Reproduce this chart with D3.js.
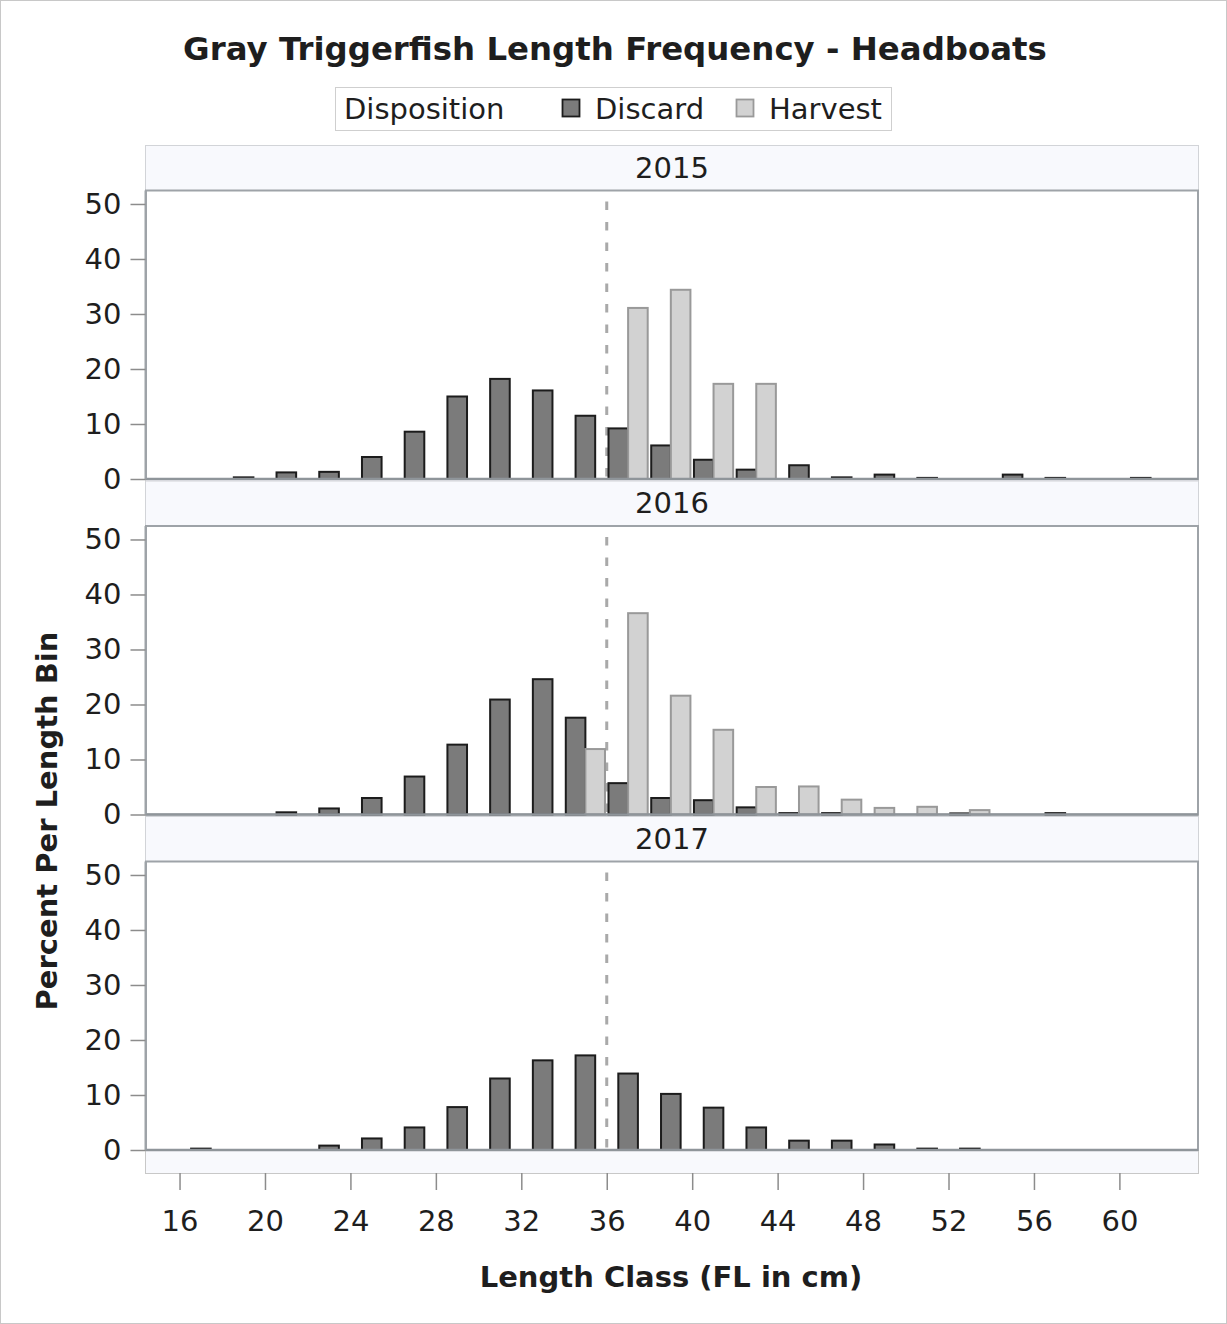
<!DOCTYPE html>
<meta charset="utf-8">

<!-- Load d3.js -->
<script src="https://d3js.org/d3.v7.min.js"></script>

<style>
    html, body {
        margin: 0;
        padding: 0;
        background-color: white;
    }
    svg text {
        font-family: "DejaVu Sans", Verdana, sans-serif;
        fill: #1e1e1e;
    }
</style>

<body></body>

<script>

    // DATA (percent per 2 cm length bin, null = no bar in that bin)
    const years = ["2015", "2016", "2017"];
    const lengthBins = [17, 19, 21, 23, 25, 27, 29, 31, 33, 35, 37, 39, 41, 43, 45, 47, 49, 51, 53, 55, 57, 59, 61];

    const discard2015 = [null, 0.3, 1.2, 1.3, 4.0, 8.6, 15.0, 18.2, 16.1, 11.5, 9.2, 6.1, 3.5, 1.7, 2.5, 0.3, 0.8, 0.2, null, 0.8, 0.2, null, 0.2];
    const harvest2015 = [null, null, null, null, null, null, null, null, null, null, 31.1, 34.4, 17.3, 17.3, null, null, null, null, null, null, null, null, null];

    const discard2016 = [null, null, 0.4, 1.1, 3.0, 6.9, 12.7, 20.9, 24.6, 17.6, 5.7, 3.0, 2.6, 1.3, 0.25, 0.25, null, null, 0.2, null, 0.25, null, null];
    const harvest2016 = [null, null, null, null, null, null, null, null, null, 11.9, 36.6, 21.6, 15.4, 5.0, 5.1, 2.7, 1.2, 1.4, 0.8, null, null, null, null];

    const discard2017 = [0.25, null, null, 0.8, 2.1, 4.1, 7.8, 13.0, 16.3, 17.2, 13.9, 10.2, 7.7, 4.1, 1.7, 1.7, 1.0, 0.25, 0.25, null, null, null, null];
    const harvest2017 = [null, null, null, null, null, null, null, null, null, null, null, null, null, null, null, null, null, null, null, null, null, null, null];

    const yTicks = [0, 10, 20, 30, 40, 50];
    const xTicks = [16, 20, 24, 28, 32, 36, 40, 44, 48, 52, 56, 60];
    const sizeLimit = 36;   // legal size reference line
    const groups = ["Discard", "Harvest"];

    // DESIGN CONSTANTS
    const width  = 1227;
    const height = 1324;

    const LEFT = 146, RIGHT = 1198;
    const PANEL_TOP = 145;
    const PANEL_PITCH = 335.5;
    const HEADER_H = 45.5;
    const PLOT_H = 288.5;
    const AXIS_Y = 1173;
    const BAR_W = 19.6;

    const discardFill = "#7b7b7b", discardLine = "#1c1c1c";
    const harvestFill = "#d2d2d2", harvestLine = "#999999";
    const stripFill = "#f8f9fd";
    const frameColor = "#9ea3a8";
    const tickColor = "#8c8c8c";

    const panels = [
        { year: years[0], discard: discard2015, harvest: harvest2015 },
        { year: years[1], discard: discard2016, harvest: harvest2016 },
        { year: years[2], discard: discard2017, harvest: harvest2017 }
    ];

    const svg = d3.select("body").append("svg")
        .attr("width", width)
        .attr("height", height);

    // light frame round the picture
    svg.append("rect")
        .attr("x", 0.5).attr("y", 0.5)
        .attr("width", width - 1).attr("height", height - 1)
        .attr("fill", "white")
        .attr("stroke", "#c8c8c8");

    // shared x scale
    const x = d3.scaleLinear().domain([14.43, 63.68]).range([LEFT, RIGHT]);

    // Title
    svg.append("text")
        .attr("x", 615).attr("y", 60)
        .attr("text-anchor", "middle")
        .attr("font-weight", "bold")
        .attr("font-size", 32.4)
        .text("Gray Triggerfish Length Frequency - Headboats");

    // Legend
    const legend = svg.append("g");
    legend.append("rect")
        .attr("x", 335.5).attr("y", 87.5)
        .attr("width", 556).attr("height", 43)
        .attr("fill", "white")
        .attr("stroke", "#cfcfcf");
    legend.append("text")
        .attr("x", 344).attr("y", 118.5)
        .attr("font-size", 29)
        .text("Disposition");
    const legendX = [562, 736];
    groups.forEach(function(g, i) {
        legend.append("rect")
            .attr("x", legendX[i] + 0.5).attr("y", 99.5)
            .attr("width", 17).attr("height", 17)
            .attr("fill", i === 0 ? discardFill : harvestFill)
            .attr("stroke", i === 0 ? discardLine : harvestLine)
            .attr("stroke-width", 1.8);
        legend.append("text")
            .attr("x", legendX[i] + 33).attr("y", 118.5)
            .attr("font-size", 29)
            .text(g);
    });

    // Outer panel box + bottom strip
    svg.append("rect")
        .attr("x", 145.5).attr("y", PANEL_TOP + 0.5)
        .attr("width", RIGHT - 145).attr("height", AXIS_Y - PANEL_TOP)
        .attr("fill", stripFill)
        .attr("stroke", "#c8c8c8");

    // Draws one year cell
    function drawPanel(p, i) {
        const top = PANEL_TOP + i * PANEL_PITCH;
        const plotTop = top + HEADER_H;
        const plotBottom = plotTop + PLOT_H;

        const y = d3.scaleLinear().domain([0, 52.45]).range([plotBottom, plotTop]);

        const g = svg.append("g");

        // header strip
        g.append("rect")
            .attr("x", 145.5).attr("y", top + 0.5)
            .attr("width", RIGHT - 145).attr("height", HEADER_H)
            .attr("fill", stripFill)
            .attr("stroke", "#d2d4d8");
        g.append("text")
            .attr("x", (LEFT + RIGHT) / 2).attr("y", top + 32.5)
            .attr("text-anchor", "middle")
            .attr("font-size", 29)
            .text(p.year);

        // plot area
        g.append("rect")
            .attr("x", LEFT).attr("y", plotTop)
            .attr("width", RIGHT - LEFT).attr("height", PLOT_H)
            .attr("fill", "white")
            .attr("stroke", frameColor)
            .attr("stroke-width", 2);

        // reference line at the size limit
        g.append("line")
            .attr("x1", x(sizeLimit)).attr("x2", x(sizeLimit))
            .attr("y1", plotTop).attr("y2", plotBottom)
            .attr("stroke", "#a9a9a9")
            .attr("stroke-width", 3)
            .attr("stroke-dasharray", "8.5,12")
            .attr("stroke-dashoffset", 9.5);

        // bars: clustered when both groups have a bar in the bin
        lengthBins.forEach(function(bin, j) {
            const d = p.discard[j], h = p.harvest[j];
            const both = d !== null && h !== null;
            const cx = x(bin);
            if (d !== null) {
                g.append("rect")
                    .attr("x", (both ? cx - BAR_W : cx - BAR_W / 2))
                    .attr("y", y(d))
                    .attr("width", BAR_W)
                    .attr("height", y(0) - y(d))
                    .attr("fill", discardFill)
                    .attr("stroke", discardLine)
                    .attr("stroke-width", 2);
            }
            if (h !== null) {
                g.append("rect")
                    .attr("x", (both ? cx : cx - BAR_W / 2))
                    .attr("y", y(h))
                    .attr("width", BAR_W)
                    .attr("height", y(0) - y(h))
                    .attr("fill", harvestFill)
                    .attr("stroke", harvestLine)
                    .attr("stroke-width", 2);
            }
        });

        // baseline
        g.append("line")
            .attr("x1", LEFT).attr("x2", RIGHT)
            .attr("y1", plotBottom).attr("y2", plotBottom)
            .attr("stroke", "#8f959a")
            .attr("stroke-width", 2.5);

        // y axis
        const yAxis = d3.axisLeft(y)
            .tickValues(yTicks)
            .tickSize(15)
            .tickPadding(9);
        const ya = svg.append("g")
            .attr("transform", `translate(${LEFT - 0.5} 0)`)
            .call(yAxis);
        ya.select(".domain").attr("stroke", frameColor).attr("stroke-width", 2)
            .attr("d", `M0,${plotTop}V${plotBottom}`);
        ya.selectAll(".tick line").attr("stroke", tickColor).attr("stroke-width", 1.5);
        ya.selectAll(".tick text")
            .attr("font-size", 29)
            .attr("font-family", "DejaVu Sans")
            .attr("fill", "#1e1e1e");
    }

    panels.forEach(drawPanel);

    // x axis below the panel box
    const xAxis = d3.axisBottom(x)
        .tickValues(xTicks)
        .tickSize(17)
        .tickPadding(20)
        .tickFormat(d3.format("d"));
    const xa = svg.append("g")
        .attr("transform", `translate(0 ${AXIS_Y})`)
        .call(xAxis);
    xa.select(".domain").remove();
    xa.selectAll(".tick line").attr("stroke", tickColor).attr("stroke-width", 1.5);
    xa.selectAll(".tick text")
        .attr("font-size", 29)
        .attr("font-family", "DejaVu Sans")
        .attr("fill", "#1e1e1e");

    // axis titles
    svg.append("text")
        .attr("x", 671).attr("y", 1287)
        .attr("text-anchor", "middle")
        .attr("font-weight", "bold")
        .attr("font-size", 29)
        .text("Length Class (FL in cm)");

    svg.append("text")
        .attr("transform", "translate(57 821) rotate(-90)")
        .attr("text-anchor", "middle")
        .attr("font-weight", "bold")
        .attr("font-size", 29)
        .text("Percent Per Length Bin");

</script>
